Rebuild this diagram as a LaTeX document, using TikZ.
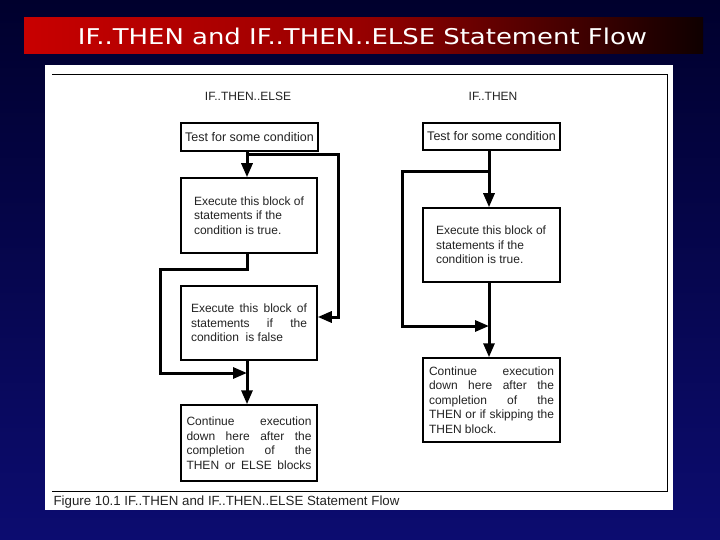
\documentclass[tikz,border=0pt]{standalone}
\usepackage{fontspec}
\setmainfont{Liberation Sans}
\newfontfamily\titlefont{DejaVu Sans}
\usetikzlibrary{arrows.meta,calc}
\definecolor{navytop}{RGB}{0,0,45}
\definecolor{navybot}{RGB}{12,12,112}
\definecolor{barred}{RGB}{200,0,0}
\definecolor{barmid}{RGB}{150,0,0}
\definecolor{bardark}{RGB}{15,0,0}
\definecolor{txtgray}{RGB}{35,35,35}
\begin{document}
\begin{tikzpicture}[x=1pt,y=-1pt,
  box/.style={draw=black,line width=1.5pt,inner sep=0pt,fill=white},
  flow/.style={line width=3pt,line join=miter},
  arr/.style={flow,-{Triangle[length=14pt,width=11pt]}},
  bodytext/.style={font=\fontsize{12}{14.5}\selectfont,text=txtgray},
  lbl/.style={font=\fontsize{12}{12}\selectfont,text=txtgray},
]
\useasboundingbox (0,0) rectangle (720,540);
\shade[top color=navytop,bottom color=navybot] (0,0) rectangle (720,540);
% title bar
\shade[left color=barred,right color=bardark,middle color=barmid] (24,18) rectangle (703,54);
\node[text=white,inner sep=0pt] (title) at (362.5,36.5) {\resizebox{569pt}{16.5pt}{\titlefont IF..THEN and IF..THEN..ELSE Statement Flow}};
% white panel and frame
\fill[white] (45,65) rectangle (673,510);
\draw[line width=1pt] (52,75) -- (667,75) -- (667,491) -- (52,491);
\node[anchor=base west,font=\fontsize{13.3}{13.3}\selectfont,text=txtgray] (cap) at (50,505) {Figure 10.1 IF..THEN and IF..THEN..ELSE Statement Flow};
% column labels
\node[lbl] (labL) at (248,96) {IF..THEN..ELSE};
\node[lbl] (labR) at (493,96) {IF..THEN};
% left boxes
\node[box,font=\fontsize{12.5}{14.5}\selectfont,text=txtgray,minimum width=137pt,minimum height=28pt] (L1) at (249.5,137) {Test for some condition};
\node[box,bodytext,minimum width=136pt,minimum height=75pt] (L2) at (249,215.5)
  {\parbox{110pt}{Execute this block of\\statements if the\\condition is true.}};
\node[box,bodytext,minimum width=136pt,minimum height=74pt] (L3) at (249,323)
  {\parbox{116pt}{\makebox[116pt][s]{Execute this block of}\\\makebox[116pt][s]{statements if the}\\condition \ is false}};
\node[box,bodytext,minimum width=136pt,minimum height=76pt] (L4) at (249,443)
  {\parbox{125pt}{\makebox[125pt][s]{Continue execution}\\\makebox[125pt][s]{down here after the}\\\makebox[125pt][s]{completion of the}\\\makebox[125pt][s]{THEN or ELSE blocks}}};
% right boxes
\node[box,font=\fontsize{12.5}{14.5}\selectfont,text=txtgray,minimum width=137pt,minimum height=27pt] (R1) at (491.5,136.5) {Test for some condition};
\node[box,bodytext,minimum width=137pt,minimum height=74pt] (R2) at (491.5,245)
  {\parbox{111pt}{Execute this block of\\statements if the\\condition is true.}};
\node[box,bodytext,minimum width=137pt,minimum height=84pt] (R4) at (491.5,400)
  {\parbox{125pt}{\makebox[125pt][s]{Continue execution}\\\makebox[125pt][s]{down here after the}\\\makebox[125pt][s]{completion of the}\\\makebox[125pt][s]{THEN or if skipping the}\\THEN block.}};
% connector coordinates
\coordinate (lx) at (247,0);
\coordinate (rx) at (489,0);
\coordinate (j1) at (247,155);
\coordinate (lr1) at (338,155);
\coordinate (lr2) at (338,317);
\coordinate (l2a) at (247,269);
\coordinate (l2b) at (160,269);
\coordinate (l2c) at (160,373);
\coordinate (l2d) at (247,373);
\coordinate (r1) at (489,172);
\coordinate (r2) at (402,172);
\coordinate (r3) at (402,326);
\coordinate (r4) at (489,326);
% left connectors
\draw[arr] (L1.south -| lx) -- (L2.north -| lx);
\draw[arr] (j1) -- (lr1) -- (lr2) -- (lr2 -| L3.east);
\draw[arr] (L2.south -| lx) -- (l2a) -- (l2b) -- (l2c) -- (l2d);
\draw[arr] (L3.south -| lx) -- (L4.north -| lx);
% right connectors
\draw[arr] (R1.south -| rx) -- (R2.north -| rx);
\draw[arr] (r1) -- (r2) -- (r3) -- (r4);
\draw[arr] (R2.south -| rx) -- (R4.north -| rx);
\end{tikzpicture}
\end{document}
